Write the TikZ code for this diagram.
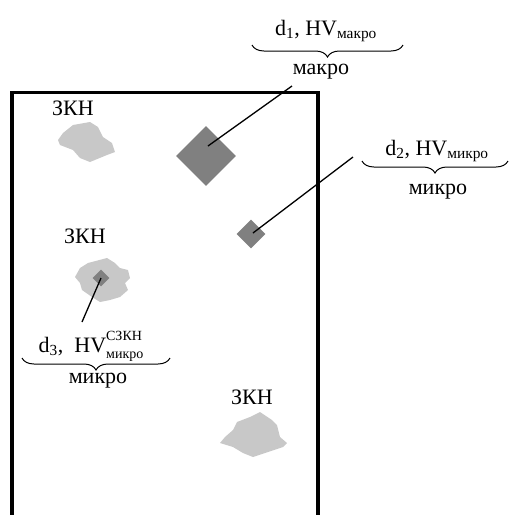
\documentclass[tikz,border=0pt]{standalone}
\usepackage{fontspec}
\usepackage{amsmath}
\setmainfont{Liberation Serif}
\usetikzlibrary{shapes.geometric,decorations.pathreplacing}
\definecolor{graincol}{HTML}{808080}
\definecolor{zkncol}{HTML}{C8C8C8}
\newcommand{\scriptfs}{\fontsize{14}{14}\selectfont}
\begin{document}
\begin{tikzpicture}[x=1pt,y=-1pt,
  lbl/.style={font=\fontsize{22}{26}\selectfont, inner sep=0pt},
  grain/.style={shape=diamond, fill=graincol, draw=none, inner sep=0pt},
  zone/.style={fill=zkncol, draw=none},
  lead/.style={line width=1.3pt},
  brc/.style={decorate, decoration={brace, mirror, amplitude=12pt}, line width=1pt}]
\useasboundingbox (0,0) rectangle (510,515);
% frame
\draw[line width=3.5pt] (12,520) -- (12,92.5) -- (318,92.5) -- (318,520);
% ZKN zones
\fill[zone] (73,125) -- (90,122) -- (98,127) -- (103,137) -- (112,143) -- (115,152) -- (107,155) -- (90,162) -- (80,158) -- (73,150) -- (60,145) -- (58,140) -- (63,133) -- cycle;
\fill[zone] (88,263) -- (107,258) -- (115,263) -- (120,268) -- (128,270) -- (130,278) -- (125,283) -- (128,290) -- (120,297) -- (110,300) -- (100,302) -- (92,297) -- (82,290) -- (80,283) -- (75,277) -- (80,268) -- cycle;
\fill[zone] (260,412) -- (272,420) -- (277,425) -- (280,437) -- (287,443) -- (283,447) -- (268,452) -- (253,457) -- (243,453) -- (233,447) -- (220,443) -- (225,437) -- (233,430) -- (237,422) -- (250,417) -- cycle;
\node[lbl] (z1) at (73,108) {ЗКН};
\node[lbl] (z2) at (85,236) {ЗКН};
\node[lbl] (z3) at (252,397) {ЗКН};
% grains
\node[grain, minimum width=60pt, minimum height=60pt] (g1) at (206,156) {};
\node[grain, minimum width=29pt, minimum height=29pt] (g2) at (251,234) {};
\node[grain, minimum width=17pt, minimum height=17pt] (g3) at (101,278) {};
% labels
\node[lbl, anchor=base] (t1) at (326,35) {d$_{\text{1}}$, HV$_{\text{макро}}$};
\draw[brc] (252,45) coordinate (b1a) -- (403,45) coordinate (b1b);
\node[lbl] (m1) at (321,72) {макро};
\node[lbl, anchor=base] (t2) at (437,155) {d$_{\text{2}}$, HV$_{\text{микро}}$};
\draw[brc] (362,161) coordinate (b2a) -- (508,161) coordinate (b2b);
\node[lbl] (m2) at (438,192) {микро};
\node[lbl, anchor=base] (t3) at (91,352) {d$_{\text{3}}$,\ \ HV\makebox[0pt][l]{\raisebox{12pt}{\scriptfs СЗКН}}\raisebox{-6pt}{\scriptfs микро}};
\draw[brc] (22,358) coordinate (b3a) -- (170,358) coordinate (b3b);
\node[lbl] (m3) at (98,381) {микро};
% leaders
\coordinate (e1) at (292,86);
\coordinate (e2) at (353,157);
\coordinate (e3) at (82,322);
\draw[lead] ([shift={(2,-10)}]g1.center) -- (e1);
\draw[lead] ([shift={(2,-1)}]g2.center) -- (e2);
\draw[lead] (g3.center) -- (e3);
\end{tikzpicture}
\end{document}
